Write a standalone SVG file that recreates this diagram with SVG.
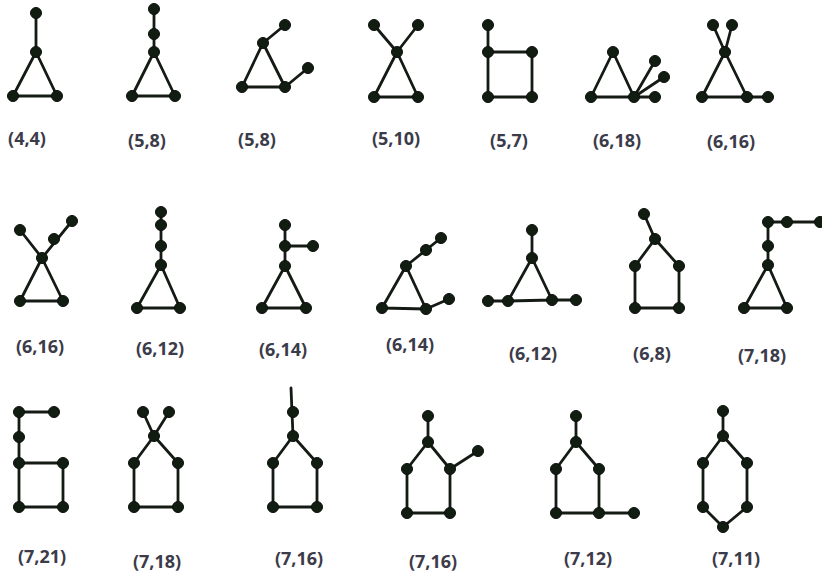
<svg xmlns="http://www.w3.org/2000/svg" width="822" height="579" viewBox="0 0 822 579">
<style>
.e line,.e polyline,.e polygon{stroke:#141a14;stroke-width:2.8;fill:none;stroke-linecap:round;stroke-linejoin:round}
.n circle{fill:#121d12;stroke:#0a0f0a;stroke-width:1}
text{font-family:"Open Sans","Liberation Sans",sans-serif;font-weight:bold;font-size:18px;fill:#3b3b4a;text-anchor:middle}
</style>
<rect width="822" height="579" fill="#ffffff"/>

<g id="g1">
<g class="e"><line x1="36" y1="13" x2="36" y2="52"/><polygon points="36,52 13,96 57,96"/></g>
<g class="n"><circle cx="36" cy="13" r="5.5"/><circle cx="36" cy="52" r="5.5"/><circle cx="13" cy="96" r="5.5"/><circle cx="57" cy="96" r="5.5"/></g>
<text x="27" y="145">(4,4)</text>
</g>

<g id="g2">
<g class="e"><line x1="154" y1="9" x2="154" y2="52"/><polygon points="154,52 132,96 175,96"/></g>
<g class="n"><circle cx="154" cy="9" r="5.5"/><circle cx="154" cy="34" r="5.5"/><circle cx="154" cy="52" r="5.5"/><circle cx="132" cy="96" r="5.5"/><circle cx="175" cy="96" r="5.5"/></g>
<text x="147" y="147">(5,8)</text>
</g>

<g id="g3">
<g class="e"><polygon points="263,43 242,87 285,87"/><line x1="263" y1="43" x2="285" y2="25"/><line x1="285" y1="87" x2="308" y2="68"/></g>
<g class="n"><circle cx="263" cy="43" r="5.5"/><circle cx="242" cy="87" r="5.5"/><circle cx="285" cy="87" r="5.5"/><circle cx="285" cy="25" r="5.5"/><circle cx="308" cy="68" r="5.5"/></g>
<text x="257" y="146">(5,8)</text>
</g>

<g id="g4">
<g class="e"><line x1="374" y1="25" x2="397" y2="52"/><line x1="418" y1="25" x2="397" y2="52"/><polygon points="397,52 374,97 418,97"/></g>
<g class="n"><circle cx="374" cy="25" r="5.5"/><circle cx="418" cy="25" r="5.5"/><circle cx="397" cy="52" r="5.5"/><circle cx="374" cy="97" r="5.5"/><circle cx="418" cy="97" r="5.5"/></g>
<text x="396" y="145">(5,10)</text>
</g>

<g id="g5">
<g class="e"><line x1="488" y1="25" x2="488" y2="52"/><polygon points="488,52 532,52 532,97 488,97"/></g>
<g class="n"><circle cx="488" cy="25" r="5.5"/><circle cx="488" cy="52" r="5.5"/><circle cx="532" cy="52" r="5.5"/><circle cx="488" cy="97" r="5.5"/><circle cx="532" cy="97" r="5.5"/></g>
<text x="509" y="147">(5,7)</text>
</g>

<g id="g6">
<g class="e"><polygon points="613,52 591,97 634,97"/><line x1="634" y1="97" x2="655" y2="61"/><line x1="634" y1="97" x2="664" y2="77"/><line x1="634" y1="97" x2="655" y2="97"/></g>
<g class="n"><circle cx="613" cy="52" r="5.5"/><circle cx="591" cy="97" r="5.5"/><circle cx="634" cy="97" r="5.5"/><circle cx="655" cy="61" r="5.5"/><circle cx="664" cy="77" r="5.5"/><circle cx="655" cy="97" r="5.5"/></g>
<text x="617" y="147">(6,18)</text>
</g>

<g id="g7">
<g class="e"><line x1="713" y1="25" x2="725" y2="52"/><line x1="732" y1="25" x2="725" y2="52"/><polygon points="725,52 702,97 747,97"/><line x1="747" y1="97" x2="768" y2="97"/></g>
<g class="n"><circle cx="713" cy="25" r="5.5"/><circle cx="732" cy="25" r="5.5"/><circle cx="725" cy="52" r="5.5"/><circle cx="702" cy="97" r="5.5"/><circle cx="747" cy="97" r="5.5"/><circle cx="768" cy="97" r="5.5"/></g>
<text x="731" y="148">(6,16)</text>
</g>

<g id="g8">
<g class="e"><line x1="20" y1="230" x2="42" y2="258"/><line x1="42" y1="258" x2="72" y2="221"/><polygon points="42,258 20,301 63,301"/></g>
<g class="n"><circle cx="20" cy="230" r="5.5"/><circle cx="54" cy="239" r="5.5"/><circle cx="72" cy="221" r="5.5"/><circle cx="42" cy="258" r="5.5"/><circle cx="20" cy="301" r="5.5"/><circle cx="63" cy="301" r="5.5"/></g>
<text x="40" y="353">(6,16)</text>
</g>

<g id="g9">
<g class="e"><line x1="161" y1="212" x2="161" y2="265"/><polygon points="161,265 137,308 180,308"/></g>
<g class="n"><circle cx="161" cy="212" r="5.5"/><circle cx="161" cy="225" r="5.5"/><circle cx="161" cy="246" r="5.5"/><circle cx="161" cy="265" r="5.5"/><circle cx="137" cy="308" r="5.5"/><circle cx="180" cy="308" r="5.5"/></g>
<text x="160" y="355">(6,12)</text>
</g>

<g id="g10">
<g class="e"><line x1="285" y1="225" x2="285" y2="266"/><line x1="285" y1="246" x2="313" y2="246"/><polygon points="285,266 262,308 306,308"/></g>
<g class="n"><circle cx="285" cy="225" r="5.5"/><circle cx="285" cy="246" r="5.5"/><circle cx="313" cy="246" r="5.5"/><circle cx="285" cy="266" r="5.5"/><circle cx="262" cy="308" r="5.5"/><circle cx="306" cy="308" r="5.5"/></g>
<text x="283" y="356">(6,14)</text>
</g>

<g id="g11">
<g class="e"><line x1="406" y1="266" x2="441" y2="238"/><polygon points="406,266 382,308 426,309"/><line x1="426" y1="309" x2="449" y2="299"/></g>
<g class="n"><circle cx="406" cy="266" r="5.5"/><circle cx="426" cy="250" r="5.5"/><circle cx="441" cy="238" r="5.5"/><circle cx="382" cy="308" r="5.5"/><circle cx="426" cy="309" r="5.5"/><circle cx="449" cy="299" r="5.5"/></g>
<text x="410" y="351">(6,14)</text>
</g>

<g id="g12">
<g class="e"><line x1="532" y1="230" x2="532" y2="258"/><polygon points="532,258 508,301 552,300"/><line x1="488" y1="301" x2="508" y2="301"/><line x1="552" y1="300" x2="576" y2="300"/></g>
<g class="n"><circle cx="532" cy="230" r="5.5"/><circle cx="532" cy="258" r="5.5"/><circle cx="488" cy="301" r="5.5"/><circle cx="508" cy="301" r="5.5"/><circle cx="552" cy="300" r="5.5"/><circle cx="576" cy="300" r="5.5"/></g>
<text x="533" y="360">(6,12)</text>
</g>

<g id="g13">
<g class="e"><line x1="644" y1="214" x2="655" y2="239"/><polygon points="655,239 679,266 679,308 635,308 635,266"/></g>
<g class="n"><circle cx="644" cy="214" r="5.5"/><circle cx="655" cy="239" r="5.5"/><circle cx="635" cy="266" r="5.5"/><circle cx="679" cy="266" r="5.5"/><circle cx="635" cy="308" r="5.5"/><circle cx="679" cy="308" r="5.5"/></g>
<text x="652" y="360">(6,8)</text>
</g>

<g id="g14">
<g class="e"><polyline points="822,222 768,222 768,265"/><polygon points="768,265 744,308 787,308"/></g>
<g class="n"><circle cx="768" cy="222" r="5.5"/><circle cx="787" cy="222" r="5.5"/><circle cx="820" cy="222" r="5.5"/><circle cx="768" cy="246" r="5.5"/><circle cx="768" cy="265" r="5.5"/><circle cx="744" cy="308" r="5.5"/><circle cx="787" cy="308" r="5.5"/></g>
<text x="762" y="362">(7,18)</text>
</g>

<g id="g15">
<g class="e"><polyline points="54,412 19,412 19,463"/><polygon points="19,463 63,463 63,507 19,507"/></g>
<g class="n"><circle cx="19" cy="412" r="5.5"/><circle cx="54" cy="412" r="5.5"/><circle cx="19" cy="437" r="5.5"/><circle cx="19" cy="463" r="5.5"/><circle cx="63" cy="463" r="5.5"/><circle cx="19" cy="507" r="5.5"/><circle cx="63" cy="507" r="5.5"/></g>
<text x="42" y="563">(7,21)</text>
</g>

<g id="g16">
<g class="e"><line x1="143" y1="412" x2="154" y2="436"/><line x1="169" y1="412" x2="154" y2="436"/><polygon points="154,436 178,463 178,507 134,507 134,463"/></g>
<g class="n"><circle cx="143" cy="412" r="5.5"/><circle cx="169" cy="412" r="5.5"/><circle cx="154" cy="436" r="5.5"/><circle cx="134" cy="463" r="5.5"/><circle cx="178" cy="463" r="5.5"/><circle cx="134" cy="507" r="5.5"/><circle cx="178" cy="507" r="5.5"/></g>
<text x="157" y="568">(7,18)</text>
</g>

<g id="g17">
<g class="e"><line x1="291" y1="388" x2="293" y2="436"/><polygon points="293,436 317,463 317,507 273,507 273,463"/></g>
<g class="n"><circle cx="293" cy="412" r="5.5"/><circle cx="293" cy="436" r="5.5"/><circle cx="273" cy="463" r="5.5"/><circle cx="317" cy="463" r="5.5"/><circle cx="273" cy="507" r="5.5"/><circle cx="317" cy="507" r="5.5"/></g>
<text x="299" y="565">(7,16)</text>
</g>

<g id="g18">
<g class="e"><line x1="428" y1="416" x2="428" y2="442"/><polygon points="428,442 450,469 450,513 407,513 407,469"/><line x1="450" y1="469" x2="478" y2="451"/></g>
<g class="n"><circle cx="428" cy="416" r="5.5"/><circle cx="428" cy="442" r="5.5"/><circle cx="407" cy="469" r="5.5"/><circle cx="450" cy="469" r="5.5"/><circle cx="478" cy="451" r="5.5"/><circle cx="407" cy="513" r="5.5"/><circle cx="450" cy="513" r="5.5"/></g>
<text x="433" y="568">(7,16)</text>
</g>

<g id="g19">
<g class="e"><line x1="576" y1="416" x2="576" y2="442"/><polygon points="576,442 599,469 599,513 556,513 556,469"/><line x1="599" y1="513" x2="634" y2="513"/></g>
<g class="n"><circle cx="576" cy="416" r="5.5"/><circle cx="576" cy="442" r="5.5"/><circle cx="556" cy="469" r="5.5"/><circle cx="599" cy="469" r="5.5"/><circle cx="556" cy="513" r="5.5"/><circle cx="599" cy="513" r="5.5"/><circle cx="634" cy="513" r="5.5"/></g>
<text x="588" y="565">(7,12)</text>
</g>

<g id="g20">
<g class="e"><line x1="723" y1="411" x2="723" y2="436"/><polygon points="723,436 747,463 747,507 723,527 703,507 703,463"/></g>
<g class="n"><circle cx="723" cy="411" r="5.5"/><circle cx="723" cy="436" r="5.5"/><circle cx="703" cy="463" r="5.5"/><circle cx="747" cy="463" r="5.5"/><circle cx="703" cy="507" r="5.5"/><circle cx="747" cy="507" r="5.5"/><circle cx="723" cy="527" r="5.5"/></g>
<text x="736" y="565">(7,11)</text>
</g>
</svg>
